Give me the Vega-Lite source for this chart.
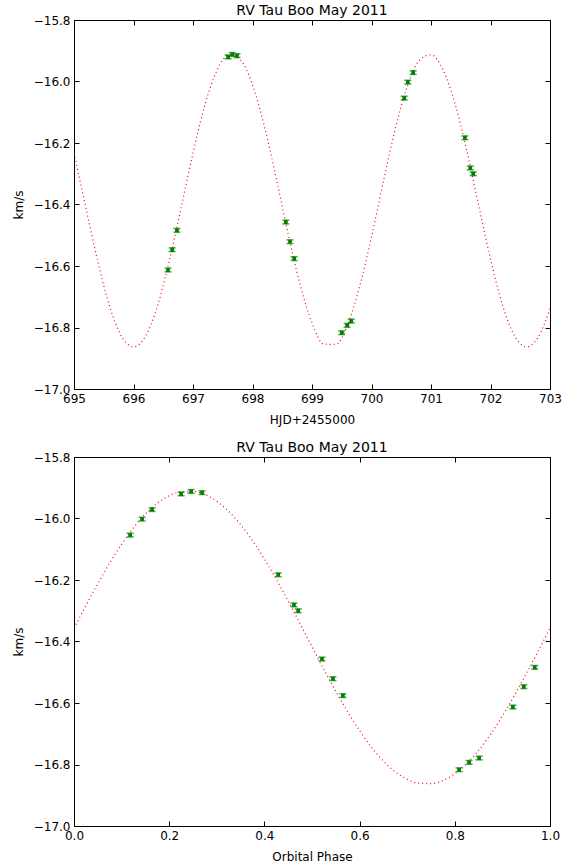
{
  "$schema": "https://vega.github.io/schema/vega-lite/v6.json",
  "background": "white",
  "padding": {"left": 11, "top": 3, "right": 5, "bottom": 3},
  "spacing": 14,
  "datasets": {
    "obs": [
      {"t": 696.58, "phase": 0.922, "v": -16.613, "err": 0.006},
      {"t": 696.65, "phase": 0.945, "v": -16.547, "err": 0.006},
      {"t": 696.73, "phase": 0.968, "v": -16.484, "err": 0.006},
      {"t": 697.59, "phase": 0.225, "v": -15.920, "err": 0.006},
      {"t": 697.66, "phase": 0.246, "v": -15.912, "err": 0.006},
      {"t": 697.74, "phase": 0.269, "v": -15.916, "err": 0.006},
      {"t": 698.56, "phase": 0.521, "v": -16.457, "err": 0.006},
      {"t": 698.63, "phase": 0.544, "v": -16.521, "err": 0.006},
      {"t": 698.70, "phase": 0.565, "v": -16.576, "err": 0.006},
      {"t": 699.50, "phase": 0.809, "v": -16.817, "err": 0.006},
      {"t": 699.59, "phase": 0.830, "v": -16.793, "err": 0.006},
      {"t": 699.66, "phase": 0.851, "v": -16.779, "err": 0.006},
      {"t": 700.55, "phase": 0.118, "v": -16.054, "err": 0.006},
      {"t": 700.61, "phase": 0.143, "v": -16.002, "err": 0.006},
      {"t": 700.70, "phase": 0.164, "v": -15.971, "err": 0.006},
      {"t": 701.57, "phase": 0.429, "v": -16.183, "err": 0.006},
      {"t": 701.66, "phase": 0.462, "v": -16.281, "err": 0.006},
      {"t": 701.71, "phase": 0.471, "v": -16.300, "err": 0.006}
    ],
    "fitTime": [
      {"t": 695.0, "v": -16.233}, {"t": 695.2, "v": -16.411}, {"t": 695.4, "v": -16.585},
      {"t": 695.6, "v": -16.732}, {"t": 695.8, "v": -16.829}, {"t": 696.0, "v": -16.863},
      {"t": 696.2, "v": -16.829}, {"t": 696.4, "v": -16.732}, {"t": 696.6, "v": -16.585},
      {"t": 696.8, "v": -16.411}, {"t": 697.0, "v": -16.233}, {"t": 697.2, "v": -16.076},
      {"t": 697.4, "v": -15.965}, {"t": 697.6, "v": -15.913}, {"t": 697.8, "v": -15.930},
      {"t": 698.0, "v": -16.011}, {"t": 698.2, "v": -16.146}, {"t": 698.4, "v": -16.316},
      {"t": 698.6, "v": -16.496}, {"t": 698.8, "v": -16.660}, {"t": 699.0, "v": -16.785},
      {"t": 699.2, "v": -16.854}, {"t": 699.4, "v": -16.855}, {"t": 699.6, "v": -16.790},
      {"t": 699.8, "v": -16.667}, {"t": 700.0, "v": -16.505}, {"t": 700.2, "v": -16.325},
      {"t": 700.4, "v": -16.154}, {"t": 700.6, "v": -16.017}, {"t": 700.8, "v": -15.932},
      {"t": 701.0, "v": -15.913}, {"t": 701.2, "v": -15.961}, {"t": 701.4, "v": -16.070},
      {"t": 701.6, "v": -16.224}, {"t": 701.8, "v": -16.402}, {"t": 702.0, "v": -16.577},
      {"t": 702.2, "v": -16.726}, {"t": 702.4, "v": -16.826}, {"t": 702.6, "v": -16.863},
      {"t": 702.8, "v": -16.832}, {"t": 703.0, "v": -16.738}
    ],
    "fitPhase": [
      {"phase": 0.0, "v": -16.357}, {"phase": 0.025, "v": -16.283}, {"phase": 0.05, "v": -16.212},
      {"phase": 0.075, "v": -16.145}, {"phase": 0.1, "v": -16.084}, {"phase": 0.125, "v": -16.030},
      {"phase": 0.15, "v": -15.985}, {"phase": 0.175, "v": -15.950}, {"phase": 0.2, "v": -15.926},
      {"phase": 0.225, "v": -15.913}, {"phase": 0.25, "v": -15.912}, {"phase": 0.275, "v": -15.922},
      {"phase": 0.3, "v": -15.944}, {"phase": 0.325, "v": -15.977}, {"phase": 0.35, "v": -16.020},
      {"phase": 0.375, "v": -16.072}, {"phase": 0.4, "v": -16.132}, {"phase": 0.425, "v": -16.198},
      {"phase": 0.45, "v": -16.269}, {"phase": 0.475, "v": -16.342}, {"phase": 0.5, "v": -16.417},
      {"phase": 0.525, "v": -16.491}, {"phase": 0.55, "v": -16.562}, {"phase": 0.575, "v": -16.629},
      {"phase": 0.6, "v": -16.690}, {"phase": 0.625, "v": -16.744}, {"phase": 0.65, "v": -16.789},
      {"phase": 0.675, "v": -16.824}, {"phase": 0.7, "v": -16.848}, {"phase": 0.725, "v": -16.861},
      {"phase": 0.75, "v": -16.862}, {"phase": 0.775, "v": -16.852}, {"phase": 0.8, "v": -16.830},
      {"phase": 0.825, "v": -16.797}, {"phase": 0.85, "v": -16.754}, {"phase": 0.875, "v": -16.702},
      {"phase": 0.9, "v": -16.642}, {"phase": 0.925, "v": -16.576}, {"phase": 0.95, "v": -16.505},
      {"phase": 0.975, "v": -16.432}, {"phase": 1.0, "v": -16.357}
    ]
  },
  "config": {
    "font": "DejaVu Sans",
    "view": {"stroke": "black", "strokeWidth": 1},
    "axis": {
      "domain": false,
      "grid": false,
      "ticks": true,
      "tickColor": "black",
      "tickSize": -5,
      "tickWidth": 1,
      "labelFont": "DejaVu Sans",
      "labelFontSize": 12,
      "labelColor": "black",
      "labelPadding": 9,
      "titleFont": "DejaVu Sans",
      "titleFontSize": 12,
      "titleFontWeight": "normal",
      "titleColor": "black"
    },
    "title": {"font": "DejaVu Sans", "fontSize": 14, "fontWeight": "normal", "color": "black", "offset": -4}
  },
  "vconcat": [
    {
      "width": 476,
      "height": 369,
      "title": "RV Tau Boo May 2011",
      "layer": [
        {
          "data": {"name": "fitTime"},
          "mark": {"type": "line", "color": "red", "strokeWidth": 1.2, "strokeDash": [1, 3], "interpolate": "monotone", "clip": true},
          "encoding": {
            "x": {"field": "t", "type": "quantitative", "scale": {"domain": [695, 703], "nice": false, "zero": false},
                  "axis": {"orient": "bottom", "title": "HJD+2455000", "values": [695, 696, 697, 698, 699, 700, 701, 702, 703], "format": "d", "labelFlush": false, "titlePadding": 10}},
            "y": {"field": "v", "type": "quantitative", "scale": {"domain": [-17.0, -15.8], "nice": false, "zero": false},
                  "axis": {"orient": "left", "title": "km/s", "values": [-17.0, -16.8, -16.6, -16.4, -16.2, -16.0, -15.8], "format": ".1f", "titlePadding": 8}}
          }
        },
        {
          "data": {"name": "obs"},
          "mark": {"type": "errorbar", "ticks": {"size": 7, "thickness": 1.5, "color": "green"}, "color": "green", "thickness": 1},
          "encoding": {
            "x": {"field": "t", "type": "quantitative", "axis": null},
            "y": {"field": "v", "type": "quantitative", "axis": null},
            "yError": {"field": "err"}
          }
        },
        {
          "data": {"name": "obs"},
          "mark": {"type": "point", "shape": "square", "filled": true, "color": "green", "size": 14, "opacity": 1},
          "encoding": {
            "x": {"field": "t", "type": "quantitative", "axis": {"orient": "top", "labels": false, "title": null, "values": [695, 696, 697, 698, 699, 700, 701, 702, 703]}},
            "y": {"field": "v", "type": "quantitative", "axis": {"orient": "right", "labels": false, "title": null, "values": [-17.0, -16.8, -16.6, -16.4, -16.2, -16.0, -15.8]}}
          }
        }
      ],
      "resolve": {"axis": {"x": "independent", "y": "independent"}}
    },
    {
      "width": 476,
      "height": 369,
      "title": "RV Tau Boo May 2011",
      "layer": [
        {
          "data": {"name": "fitPhase"},
          "mark": {"type": "line", "color": "red", "strokeWidth": 1.2, "strokeDash": [1, 3], "interpolate": "monotone", "clip": true},
          "encoding": {
            "x": {"field": "phase", "type": "quantitative", "scale": {"domain": [0, 1], "nice": false, "zero": false},
                  "axis": {"orient": "bottom", "title": "Orbital Phase", "values": [0, 0.2, 0.4, 0.6, 0.8, 1.0], "format": ".1f", "labelFlush": false, "titlePadding": 10}},
            "y": {"field": "v", "type": "quantitative", "scale": {"domain": [-17.0, -15.8], "nice": false, "zero": false},
                  "axis": {"orient": "left", "title": "km/s", "values": [-17.0, -16.8, -16.6, -16.4, -16.2, -16.0, -15.8], "format": ".1f", "titlePadding": 8}}
          }
        },
        {
          "data": {"name": "obs"},
          "mark": {"type": "errorbar", "ticks": {"size": 7, "thickness": 1.5, "color": "green"}, "color": "green", "thickness": 1},
          "encoding": {
            "x": {"field": "phase", "type": "quantitative", "axis": null},
            "y": {"field": "v", "type": "quantitative", "axis": null},
            "yError": {"field": "err"}
          }
        },
        {
          "data": {"name": "obs"},
          "mark": {"type": "point", "shape": "square", "filled": true, "color": "green", "size": 14, "opacity": 1},
          "encoding": {
            "x": {"field": "phase", "type": "quantitative", "axis": {"orient": "top", "labels": false, "title": null, "values": [0, 0.2, 0.4, 0.6, 0.8, 1.0]}},
            "y": {"field": "v", "type": "quantitative", "axis": {"orient": "right", "labels": false, "title": null, "values": [-17.0, -16.8, -16.6, -16.4, -16.2, -16.0, -15.8]}}
          }
        }
      ],
      "resolve": {"axis": {"x": "independent", "y": "independent"}}
    }
  ]
}
